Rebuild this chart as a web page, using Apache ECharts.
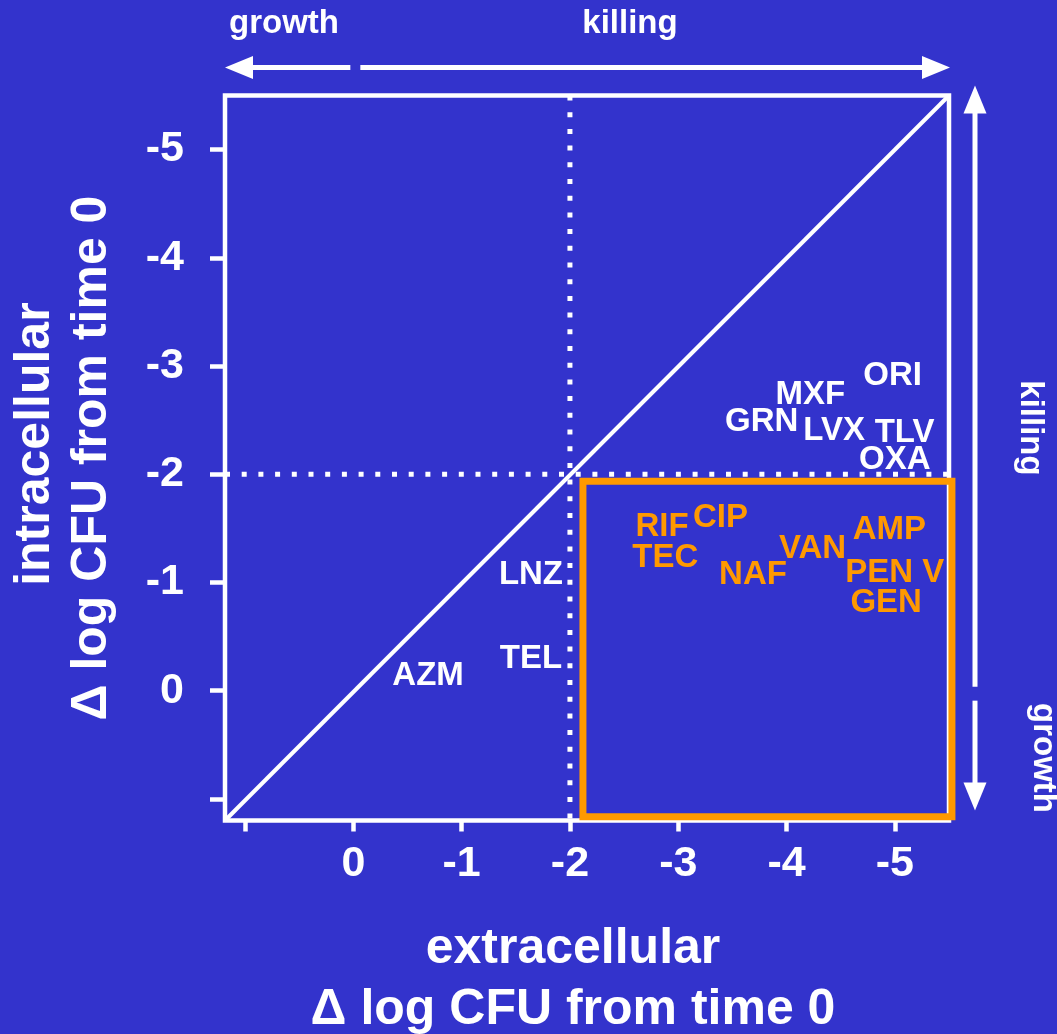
<!DOCTYPE html>
<html><head><meta charset="utf-8">
<script src="https://cdn.jsdelivr.net/npm/echarts@6/dist/echarts.min.js"></script>
<style>html,body{margin:0;padding:0;background:#3333CC;}#c{width:1057px;height:1034px;}</style>
</head><body><div id="c"></div>
<script>
const FONT = 'Arial, "Liberation Sans", sans-serif';
const BG = '#3333CC';
const ORANGE = '#FF9900';

// white (outside highlighted box) drug labels
const whiteNames = ['ORI', 'MXF', 'GRN', 'LVX', 'TLV', 'OXA', 'LNZ', 'TEL', 'AZM'];
const whiteX = [-4.98, -4.22, -3.77, -4.44, -5.09, -5.00, -1.64, -1.64, -0.69];
const whiteY = [-2.91, -2.73, -2.48, -2.40, -2.38, -2.13, -1.07, -0.29, -0.14];
// orange (inside highlighted box) drug labels
const orangeNames = ['RIF', 'CIP', 'TEC', 'NAF', 'VAN', 'AMP', 'PEN V', 'GEN'];
const orangeX = [-2.85, -3.39, -2.88, -3.69, -4.24, -4.95, -5.00, -4.92];
const orangeY = [-1.51, -1.60, -1.23, -1.07, -1.31, -1.49, -1.09, -0.81];

const tickValues = [1, 0, -1, -2, -3, -4, -5];
const tickLabels = [0, -1, -2, -3, -4, -5];
const axisMin = -5.5;
const xMax = 1.185;
const yMax = 1.2;
const refValue = -2;
const boxX = [-2.12, -5.527];
const boxY = [-1.936, 1.166];

const chart = echarts.init(document.getElementById('c'));

function axisBase(max, tickLen, margin) {
  return {
    type: 'value', min: axisMin, max: max, inverse: true,
    axisLine: { show: false, onZero: false },
    axisTick: { show: true, customValues: tickValues, length: tickLen, lineStyle: { color: '#fff', width: 4.5 } },
    axisLabel: { show: true, customValues: tickLabels, margin: margin, color: '#fff', fontSize: 43, fontWeight: 'bold', fontFamily: FONT },
    splitLine: { show: false }
  };
}

const xAxisOpt = Object.assign(axisBase(xMax, 11, 22), {
  name: 'extracellular\nΔ log CFU from time 0', nameLocation: 'middle', nameGap: 98,
  nameTextStyle: { color: '#fff', fontSize: 50, fontWeight: 'bold', fontFamily: FONT, lineHeight: 61, padding: [0, 28, 0, 0] }
});
const yAxisOpt = Object.assign(axisBase(yMax, 15, 41), {
  name: '  intracellular\nΔ log CFU from time 0', nameLocation: 'middle', nameGap: 104, nameRotate: 90,
  nameTextStyle: { color: '#fff', fontSize: 50, fontWeight: 'bold', fontFamily: FONT, lineHeight: 57 }
});

function labelSeries(names, xs, ys, color) {
  return {
    type: 'scatter', symbolSize: 0, silent: true, z: 5,
    itemStyle: { opacity: 1 },
    data: names.map((n, i) => ({ name: n, value: [xs[i], ys[i]] })),
    label: { show: true, position: 'inside', formatter: '{b}', color: color, opacity: 1, fontSize: 33, fontWeight: 'bold', fontFamily: FONT }
  };
}

chart.setOption({
  backgroundColor: BG,
  animation: false,
  grid: { left: 225, right: 108, top: 95.5, bottom: 213.5, show: true, borderColor: '#fff', borderWidth: 4.5, backgroundColor: 'transparent', outerBoundsMode: 'none' },
  xAxis: xAxisOpt,
  yAxis: yAxisOpt,
  series: [
    { type: 'line', silent: true, symbol: 'none', data: [[xMax, yMax], [axisMin, axisMin]], lineStyle: { color: '#fff', width: 4 }, z: 2 },
    { type: 'line', silent: true, symbol: 'none', data: [[refValue, axisMin], [refValue, yMax]], lineStyle: { color: '#fff', width: 5, type: [5, 11.7] }, z: 2 },
    { type: 'line', silent: true, symbol: 'none', data: [[xMax, refValue], [axisMin, refValue]], lineStyle: { color: '#fff', width: 5, type: [5, 11.7] }, z: 2 },
    {
      type: 'custom', silent: true, clip: false, z: 3,
      data: [[boxX[0], boxY[0], boxX[1], boxY[1]]],
      encode: { x: [0, 2], y: [1, 3] },
      renderItem: function (params, api) {
        const a = api.coord([api.value(0), api.value(1)]);
        const b = api.coord([api.value(2), api.value(3)]);
        return { type: 'rect', shape: { x: Math.min(a[0], b[0]), y: Math.min(a[1], b[1]), width: Math.abs(b[0] - a[0]), height: Math.abs(b[1] - a[1]) },
          style: { fill: 'none', stroke: ORANGE, lineWidth: 7 } };
      }
    },
    labelSeries(whiteNames, whiteX, whiteY, '#fff'),
    labelSeries(orangeNames, orangeX, orangeY, ORANGE)
  ]
});

// direction arrows around the plot, positioned through the axis scales
const toPx = (x, y) => chart.convertToPixel({ gridIndex: 0 }, [x, y]);
const gLeft = toPx(xMax, 0)[0], gRight = toPx(axisMin, 0)[0], zeroX = toPx(0, 0)[0];
const gTop = toPx(0, axisMin)[1], gBottom = toPx(0, yMax)[1], zeroY = toPx(0, 0)[1];
const ay = gTop - 28, ax = gRight + 26;
const HL = 28, HW = 11.5;
const arrowLine = { stroke: '#fff', lineWidth: 5 };
const txt = (text, x, y, rot) => ({ type: 'text', x: x, y: y, rotation: rot || 0, silent: true,
  style: { text: text, fill: '#fff', font: 'bold 33px ' + FONT, align: 'center', verticalAlign: 'middle' } });
chart.setOption({
  graphic: [
    { type: 'line', silent: true, shape: { x1: gLeft + HL - 2, y1: ay, x2: zeroX - 3, y2: ay }, style: arrowLine },
    { type: 'polygon', silent: true, shape: { points: [[gLeft, ay], [gLeft + HL, ay - HW], [gLeft + HL, ay + HW]] }, style: { fill: '#fff' } },
    { type: 'line', silent: true, shape: { x1: zeroX + 7, y1: ay, x2: gRight - HL + 2, y2: ay }, style: arrowLine },
    { type: 'polygon', silent: true, shape: { points: [[gRight + 1, ay], [gRight + 1 - HL, ay - HW], [gRight + 1 - HL, ay + HW]] }, style: { fill: '#fff' } },
    { type: 'line', silent: true, shape: { x1: ax, y1: gTop - 10 + HL - 2, x2: ax, y2: zeroY - 4 }, style: arrowLine },
    { type: 'polygon', silent: true, shape: { points: [[ax, gTop - 10], [ax - HW, gTop - 10 + HL], [ax + HW, gTop - 10 + HL]] }, style: { fill: '#fff' } },
    { type: 'line', silent: true, shape: { x1: ax, y1: zeroY + 10, x2: ax, y2: gBottom - 10 - HL + 2 }, style: arrowLine },
    { type: 'polygon', silent: true, shape: { points: [[ax, gBottom - 10], [ax - HW, gBottom - 10 - HL], [ax + HW, gBottom - 10 - HL]] }, style: { fill: '#fff' } },
    txt('growth', 284, 24),
    txt('killing', 630, 24),
    txt('killing', ax + 55, 428, -Math.PI / 2),
    txt('growth', ax + 68, 758, -Math.PI / 2)
  ]
});
</script>
</body></html>
